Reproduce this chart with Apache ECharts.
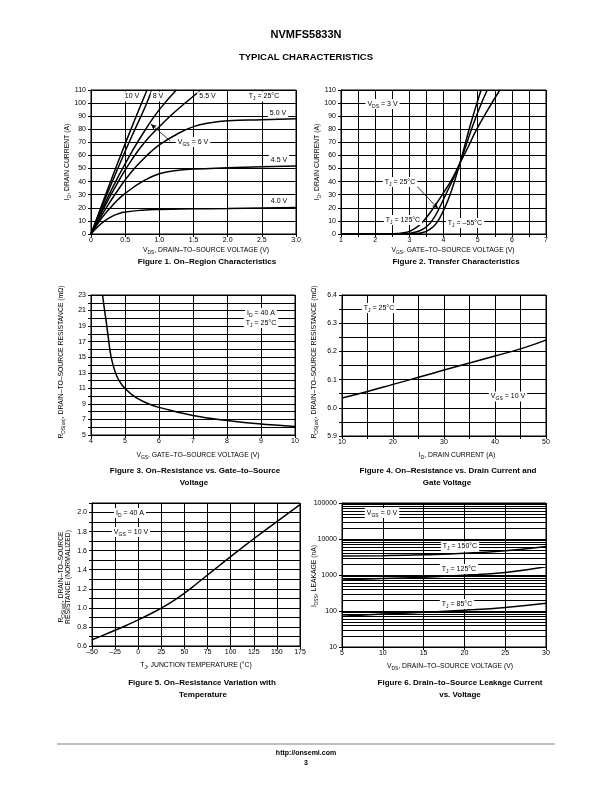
<!DOCTYPE html>
<html><head><meta charset="utf-8">
<script src="https://cdn.jsdelivr.net/npm/echarts@6/dist/echarts.min.js"></script>
<style>html,body{margin:0;padding:0;background:#fff}#c{width:612px;height:792px}</style>
</head><body><div id="c"></div>
<script>
// ---------- DATA ----------
// Figure 1: On-Region Characteristics, ID (A) vs VDS (V)
const fig1Vgs10 = [[0,0],[0.2,28],[0.4,55.5],[0.6,82],[0.82,110]];
const fig1Vgs8  = [[0,0],[0.2,26],[0.4,51],[0.6,75],[0.8,98],[0.89,110]];
const fig1Vgs6  = [[0,0],[0.2,23],[0.4,44],[0.6,63],[0.8,80],[1.0,95],[1.25,110]];
const fig1Vgs55 = [[0,0],[0.2,21],[0.4,40],[0.6,57],[0.8,71],[1.0,82],[1.2,92],[1.4,101],[1.61,110]];
const fig1Vgs5  = [[0,0],[0.2,18],[0.4,34],[0.6,48],[0.8,59],[1.0,68],[1.25,76],[1.5,82],[1.75,85],[2.0,86.5],[2.5,87.3],[3.0,88]];
const fig1Vgs45 = [[0,0],[0.1,8],[0.2,15],[0.3,21],[0.4,26.5],[0.5,31],[0.75,40],[1.0,46],[1.25,48.5],[1.5,49.6],[2.0,50.6],[2.5,51.4],[3.0,52]];
const fig1Vgs4  = [[0,0],[0.1,5.5],[0.2,10],[0.3,13.3],[0.4,15.5],[0.5,16.8],[0.75,18.2],[1.0,18.8],[1.5,19.2],[2.0,19.5],[2.5,19.9],[3.0,20.3]];
const fig1Leader = [[1.16,71],[0.875,84]];

// Figure 2: Transfer Characteristics, ID (A) vs VGS (V)
const fig2T125 = [[1,0],[2.4,0],[2.7,0.4],[2.9,1.2],[3.0,2],[3.2,4.8],[3.4,9.5],[3.6,16],[3.8,23.5],[4.0,31.5],[4.25,42],[4.48,54],[4.75,68],[4.95,79],[5.3,95],[5.65,110]];
const fig2T25  = [[1,0],[2.7,0],[2.9,0.3],[3.1,1],[3.3,2.5],[3.5,5.5],[3.7,11.5],[3.9,21],[4.1,32],[4.3,43],[4.48,54],[4.82,80],[5.05,96],[5.28,110]];
const fig2Tm55 = [[1,0],[3.0,0],[3.2,0.3],[3.4,1.2],[3.6,3.5],[3.8,8.5],[4.0,18],[4.2,30.5],[4.48,54],[4.75,80],[4.92,95],[5.1,110]];
const fig2Leader = [[3.22,36.5],[3.84,19.5]];

// Figure 3: RDS(on) (mOhm) vs VGS (V)
const fig3Rds = [[4.34,23],[4.4,21],[4.45,19.5],[4.5,17.8],[4.58,15.3],[4.65,14],[4.72,13],[4.8,12.2],[4.9,11.5],[5.0,11.0],[5.2,10.2],[5.45,9.5],[5.7,9.0],[6.0,8.55],[6.5,8.0],[7.0,7.5],[7.5,7.15],[8.0,6.85],[8.5,6.6],[9.0,6.4],[9.5,6.25],[10,6.1]];

// Figure 4: RDS(on) (mOhm) vs ID (A)
const fig4Rds = [[10,6.035],[15,6.058],[20,6.083],[25,6.108],[30,6.134],[35,6.159],[40,6.184],[45,6.209],[50,6.24]];

// Figure 5: normalized RDS(on) vs TJ (°C)
const fig5Rn = [[-50,0.665],[-37.5,0.714],[-25,0.765],[-12.5,0.818],[0,0.874],[12.5,0.934],[25,0.998],[37.5,1.07],[50,1.155],[62.5,1.248],[75,1.345],[87.5,1.442],[100,1.538],[112.5,1.632],[125,1.725],[137.5,1.816],[150,1.905],[162.5,1.994],[175,2.082]];

// Figure 6: IDSS (nA) vs VDS (V)
const fig6T150 = [[5,3350],[10,3450],[15,3650],[20,4000],[25,4700],[30,6200]];
const fig6T125 = [[5,730],[10,800],[15,870],[20,980],[25,1180],[30,1700]];
const fig6T85  = [[5,72],[10,82],[15,92],[20,105],[25,125],[30,163]];
const fig6MinorGrid = [20,30,40,50,60,70,80,90,200,300,400,500,600,700,800,900,2000,3000,4000,5000,6000,7000,8000,9000,20000,30000,40000,50000,60000,70000,80000,90000];

// ---------- CHART ----------
const FONT = '"Liberation Sans", Arial, Helvetica, sans-serif';
const chart = echarts.init(document.getElementById('c'), null, {renderer:'canvas'});

const gridBoxes = [
  {left:91, top:90, width:205, height:144},
  {left:341, top:90, width:205, height:144},
  {left:91, top:295, width:204, height:140},
  {left:342, top:295, width:204, height:141},
  {left:92, top:503, width:208, height:143},
  {left:342, top:503, width:204, height:144}
];
const grid = gridBoxes.map(b => Object.assign({show:true, borderColor:'#000', borderWidth:1, containLabel:false, outerBoundsMode:'none'}, b));

function ax(gi, pos, cfg, fmt) {
  const a = Object.assign({
    gridIndex: gi, position: pos, type:'value',
    axisLine:{show:true, onZero:false, lineStyle:{color:'#000', width:1}},
    axisTick:{show:true, inside:false, length:3, lineStyle:{color:'#000', width:1}},
    splitLine:{show:true, lineStyle:{color:'#000', width:1}},
    axisLabel:{color:'#000', fontFamily:FONT, fontSize:7, margin: pos==='bottom'?3:5, showMinLabel:true, showMaxLabel:true},
  }, cfg);
  if (fmt) a.axisLabel.formatter = fmt;
  return a;
}
const xAxis = [
  ax(0,'bottom',{min:0,max:3,interval:0.5}, v => v===0?'0':v.toFixed(1)),
  ax(1,'bottom',{min:1,max:7,interval:0.5}, v => Number.isInteger(v)?String(v):''),
  ax(2,'bottom',{min:4,max:10,interval:1}),
  ax(3,'bottom',{min:10,max:50,interval:5}, v => Math.round(v)%10===0?String(Math.round(v)):''),
  ax(4,'bottom',{min:-50,max:175,interval:25}, v => v<0?'\u2013'+(-v):String(v)),
  ax(5,'bottom',{min:5,max:30,interval:5})
];
const yAxis = [
  ax(0,'left',{min:0,max:110,interval:10}),
  ax(1,'left',{min:0,max:110,interval:10}),
  ax(2,'left',{min:5,max:23,interval:1}, v => Math.round(v)%2===1?String(Math.round(v)):''),
  ax(3,'left',{min:5.9,max:6.4,interval:0.05}, v => {const k=Math.round(v*100); return k%10===0?(k/100).toFixed(1):'';}),
  ax(4,'left',{min:0.6,max:2.1,interval:0.1}, v => {const k=Math.round(v*10); return k%2===0?(k/10).toFixed(1):'';}),
  ax(5,'left',{type:'log',logBase:10,min:10,max:100000}, v => String(Math.round(v)))
];

function line(gi, data, extra) {
  return Object.assign({
    type:'line', xAxisIndex:gi, yAxisIndex:gi, data, showSymbol:false, symbol:'none',
    smooth:0.5, clip:true, silent:true, z:5,
    lineStyle:{color:'#000', width:1.5}
  }, extra||{});
}
function leader(pts) {
  return {silent:true, symbol:['none','arrow'], symbolSize:[4,6], label:{show:false},
    lineStyle:{color:'#000', width:0.8, type:'solid'},
    data:[[{coord:pts[0]},{coord:pts[1]}]]};
}

const series = [
  line(0, fig1Vgs10), line(0, fig1Vgs8),
  line(0, fig1Vgs6, {markLine: leader(fig1Leader)}),
  line(0, fig1Vgs55), line(0, fig1Vgs5), line(0, fig1Vgs45), line(0, fig1Vgs4),
  line(1, fig2T125), line(1, fig2T25, {markLine: leader(fig2Leader)}), line(1, fig2Tm55),
  line(2, fig3Rds), line(3, fig4Rds), line(4, fig5Rn),
  line(5, fig6T150), line(5, fig6T125),
  line(5, fig6T85, {markLine:{silent:true, symbol:'none', label:{show:false}, animation:false,
    lineStyle:{color:'#000', width:1, type:'solid'},
    data: fig6MinorGrid.map(v => ({yAxis:v}))}})
];

// ---------- TEXT ----------
function rich(size) {
  return {
    n:{fontFamily:FONT, fontSize:size, fill:'#000', color:'#000', lineHeight:size+3},
    s:{fontFamily:FONT, fontSize:size*0.72, fill:'#000', color:'#000', lineHeight:size*0.62, verticalAlign:'bottom'}
  };
}
function T(x, y, text, size, opt) {
  opt = opt || {};
  const st = {text, fontFamily:FONT, fontSize:size, fontWeight: opt.bold?'bold':'normal', fill:'#000',
    align:'center', verticalAlign:'middle', textAlign:'center', textVerticalAlign:'middle'};
  if (opt.rich) st.rich = rich(size);
  if (opt.bg) { st.backgroundColor = '#fff'; st.padding = [0,2]; }
  const el = {type:'text', x, y, z:100, silent:true, style:st};
  if (opt.rot) el.rotation = Math.PI/2;
  return el;
}
const A = (x,y,t) => T(x,y,t,7,{rich:true,bg:true});
const AX = (x,y,t,rot) => T(x,y,t,6.8,{rich:true,rot});

const graphic = [
  T(306,35,'NVMFS5833N',11,{bold:true}),
  T(306,57,'TYPICAL CHARACTERISTICS',9.5,{bold:true}),
  // Fig 1
  A(132,96.5,'{n|10 V}'), A(158,96.5,'{n|8 V}'), A(207.5,96.5,'{n|5.5 V}'),
  A(264,96.5,'{n|T}{s|J}{n| = 25°C}'), A(278,113,'{n|5.0 V}'),
  A(193,142,'{n|V}{s|GS}{n| = 6 V}'), A(279,160,'{n|4.5 V}'), A(279,201.5,'{n|4.0 V}'),
  AX(67,162,'{n|I}{s|D}{n|, DRAIN CURRENT (A)}',true),
  AX(206,250,'{n|V}{s|DS}{n|, DRAIN\u2013TO\u2013SOURCE VOLTAGE (V)}'),
  T(207,262,'Figure 1. On\u2013Region Characteristics',8,{bold:true}),
  // Fig 2
  A(382.5,104,'{n|V}{s|DS}{n| = 3 V}'), A(400,182,'{n|T}{s|J}{n| = 25°C}'),
  A(403,220,'{n|T}{s|J}{n| = 125°C}'), A(465,223,'{n|T}{s|J}{n| = \u201355°C}'),
  AX(317,162,'{n|I}{s|D}{n|, DRAIN CURRENT (A)}',true),
  AX(453,250,'{n|V}{s|GS}{n|, GATE\u2013TO\u2013SOURCE VOLTAGE (V)}'),
  T(456,262,'Figure 2. Transfer Characteristics',8,{bold:true}),
  // Fig 3
  A(261,313,'{n|I}{s|D}{n| = 40 A}'), A(261,323,'{n|T}{s|J}{n| = 25°C}'),
  AX(61,362,'{n|R}{s|DS(on)}{n|, DRAIN\u2013TO\u2013SOURCE RESISTANCE (mΩ)}',true),
  AX(198,455,'{n|V}{s|GS}{n|, GATE\u2013TO\u2013SOURCE VOLTAGE (V)}'),
  T(195,471,'Figure 3. On\u2013Resistance vs. Gate\u2013to\u2013Source',8,{bold:true}),
  T(194,483,'Voltage',8,{bold:true}),
  // Fig 4
  A(379,308,'{n|T}{s|J}{n| = 25°C}'), A(508,396.5,'{n|V}{s|GS}{n| = 10 V}'),
  AX(314,362,'{n|R}{s|DS(on)}{n|, DRAIN\u2013TO\u2013SOURCE RESISTANCE (mΩ)}',true),
  AX(457,455,'{n|I}{s|D}{n|, DRAIN CURRENT (A)}'),
  T(448,471,'Figure 4. On\u2013Resistance vs. Drain Current and',8,{bold:true}),
  T(447,483,'Gate Voltage',8,{bold:true}),
  // Fig 5
  A(130,513,'{n|I}{s|D}{n| = 40 A}'), A(131,532,'{n|V}{s|GS}{n| = 10 V}'),
  AX(61.5,577,'{n|R}{s|DS(on)}{n|, DRAIN\u2013TO\u2013SOURCE}',true),
  AX(68.5,577,'{n|RESISTANCE (NORMALIZED)}',true),
  AX(196,665,'{n|T}{s|J}{n|, JUNCTION TEMPERATURE (°C)}'),
  T(202,683,'Figure 5. On\u2013Resistance Variation with',8,{bold:true}),
  T(203,695,'Temperature',8,{bold:true}),
  // Fig 6
  A(382,513,'{n|V}{s|GS}{n| = 0 V}'), A(460,546.5,'{n|T}{s|J}{n| = 150°C}'),
  A(459,569,'{n|T}{s|J}{n| = 125°C}'), A(457,604,'{n|T}{s|J}{n| = 85°C}'),
  AX(314,576,'{n|I}{s|DSS}{n|, LEAKAGE (nA)}',true),
  AX(450,666,'{n|V}{s|DS}{n|, DRAIN\u2013TO\u2013SOURCE VOLTAGE (V)}'),
  T(460,683,'Figure 6. Drain\u2013to\u2013Source Leakage Current',8,{bold:true}),
  T(460,695,'vs. Voltage',8,{bold:true}),
  // footer
  {type:'line', z:100, silent:true, shape:{x1:57,y1:744,x2:555,y2:744}, style:{stroke:'#aaa', lineWidth:1.5}},
  T(306,753,'http://onsemi.com',7,{bold:true}),
  T(306,763,'3',7,{bold:true})
];

chart.setOption({
  animation:false,
  backgroundColor:'#fff',
  grid, xAxis, yAxis, series, graphic
});
</script>
</body></html>
